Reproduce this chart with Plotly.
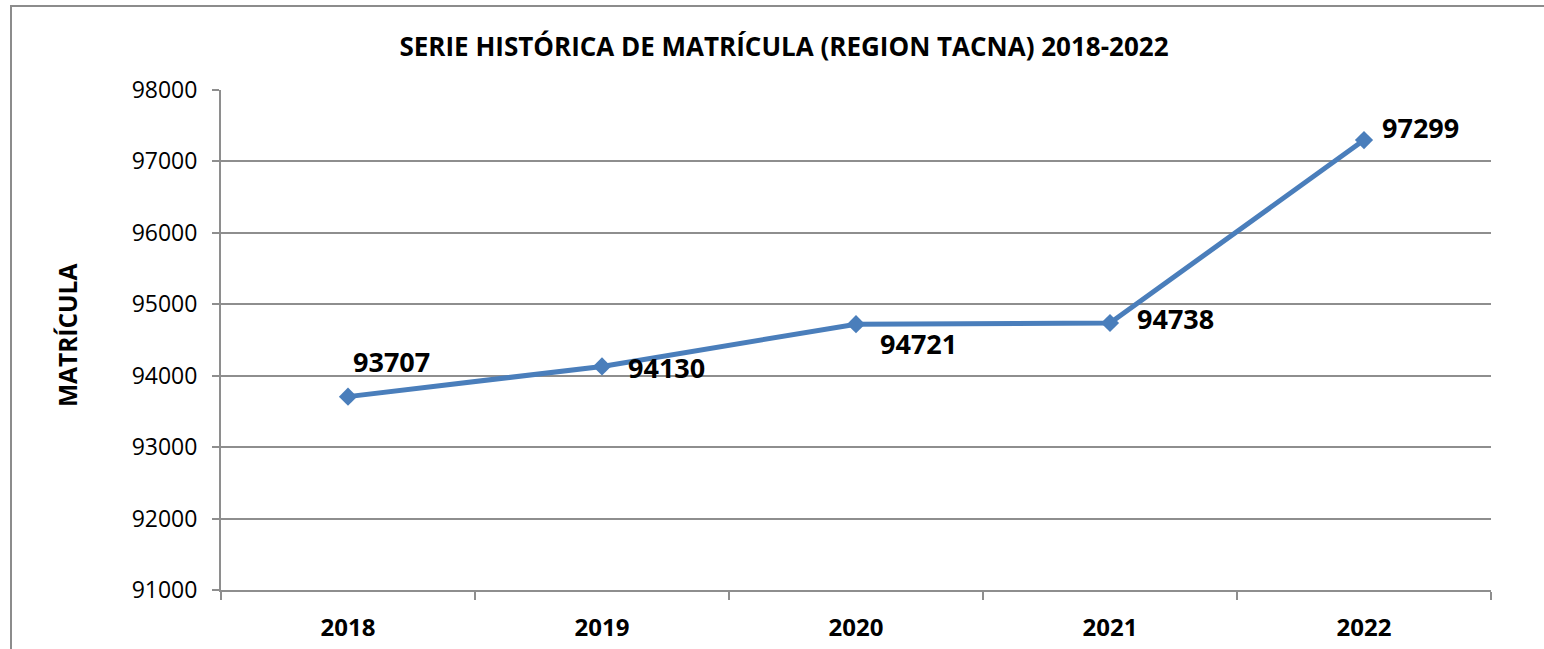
import plotly.graph_objects as go

years = ["2018", "2019", "2020", "2021", "2022"]
matricula = [93707, 94130, 94721, 94738, 97299]
y_ticks = [91000, 92000, 93000, 94000, 95000, 96000, 97000, 98000]

# label offsets (pixels) relative to each point: style only
label_dx = [43, 64, 62, 65, 56]
label_dy = [35, -1, -19, 5, 13]

W, H = 1544, 649
L, R, T, B = 221, 53, 90, 59
pw, ph = W - L - R, H - T - B

FONT = "Open Sans"
GRID = "#8e8e8e"
BLUE = "#4a7ebb"

fig = go.Figure()
fig.add_trace(go.Scatter(
    x=years, y=matricula, mode="lines+markers",
    line=dict(color=BLUE, width=5),
    marker=dict(symbol="diamond", size=14, color=BLUE),
    hoverinfo="x+y", showlegend=False,
))

for i, (y, dx, dy) in enumerate(zip(matricula, label_dx, label_dy)):
    fig.add_annotation(x=i, y=y, xref="x", yref="y", text=str(y), showarrow=False,
                       xshift=dx, yshift=dy, xanchor="center", yanchor="middle",
                       font=dict(family=FONT, size=27, color="black", weight="bold"))

def px_x(p):
    return (p - L) / pw

def px_y(p):
    return (H - B - p) / ph

# outer chart frame (extends past right/bottom edges)
fig.add_shape(type="rect", xref="paper", yref="paper",
              x0=px_x(11), x1=px_x(1700), y0=px_y(700), y1=px_y(6),
              line=dict(color="#8c8c8c", width=2), layer="below")

fig.add_annotation(xref="paper", yref="paper", x=px_x(67), y=px_y(336),
                   xanchor="center", yanchor="middle",
                   text="MATRÍCULA", textangle=-90, showarrow=False,
                   font=dict(family=FONT, size=24.5, color="black", weight="bold"))

fig.update_layout(
    width=W, height=H,
    margin=dict(l=L, r=R, t=T, b=B, autoexpand=False),
    paper_bgcolor="white", plot_bgcolor="white",
    title=dict(text="SERIE HISTÓRICA DE MATRÍCULA (REGION TACNA) 2018-2022",
               x=784 / W, xanchor="center", xref="container",
               y=1 - 47 / H, yanchor="middle", yref="container",
               font=dict(family=FONT, size=26, color="black", weight="bold")),
    xaxis=dict(type="category", tickson="boundaries", ticks="outside",
               ticklen=8, tickcolor=GRID, tickwidth=2,
               showline=True, linecolor=GRID, linewidth=2,
               showgrid=False, zeroline=False, automargin=False,
               tickfont=dict(family=FONT, size=24, color="black", weight="bold"),
               ticklabelstandoff=15, range=[-0.5, 4.5]),
    yaxis=dict(range=[91000, 98000], tickvals=y_ticks,
               ticktext=[str(v) for v in y_ticks],
               ticks="outside", ticklen=7, tickcolor=GRID, tickwidth=2,
               showline=True, linecolor=GRID, linewidth=2,
               showgrid=True, gridcolor=GRID, gridwidth=2, zeroline=False,
               automargin=False,
               tickfont=dict(family=FONT, size=23, color="black"),
               ticklabelstandoff=10),
)

fig.write_html("out.html", config={"displayModeBar": False},
               post_script="document.body.style.margin='0';"
                           "document.body.style.overflow='hidden';"
                           "document.documentElement.style.overflow='hidden';")
